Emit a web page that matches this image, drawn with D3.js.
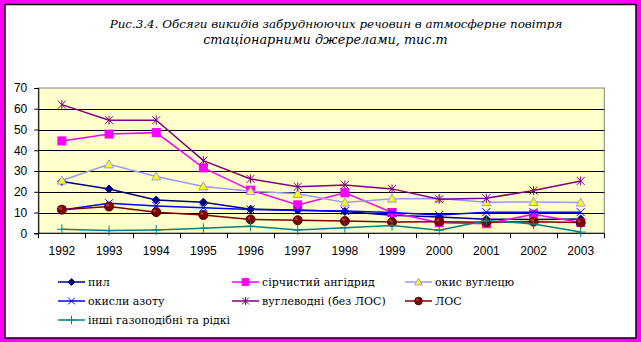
<!DOCTYPE html>
<html><head><meta charset="utf-8">
<script src="https://cdn.jsdelivr.net/npm/d3@7"></script>
<style>html,body{margin:0;padding:0;background:#FF00FF;}svg{display:block;}</style>
</head><body>
<script>
const years = ["1992","1993","1994","1995","1996","1997","1998","1999","2000","2001","2002","2003"];
const yTicks = [0,10,20,30,40,50,60,70];
const titleLines = ["Рис.3.4. Обсяги викидів забруднюючих речовин в атмосферне повітря","стаціонарними джерелами, тис.т"];
const seriesNames = ["пил","сірчистий ангідрид","окис вуглецю","окисли азоту","вуглеводні (без ЛОС)","ЛОС","інші газоподібні та рідкі"];
const pyl      = [25, 21.3, 16, 15, 11.6, 11.2, 10.5, 8.7, 7.8, 6.8, 6.7, 6.9];
const sirch    = [44.5, 47.8, 48.5, 31.5, 20.8, 13.7, 19.5, 10.0, 5.1, 4.6, 9.2, 5.2];
const okysVug  = [25.4, 33.2, 27.4, 22.6, 20.3, 19.0, 14.8, 16.7, 16.8, 15.0, 15.1, 14.8];
const okyslyAz = [11.2, 14.5, 13.2, 12.3, 11.5, 11.0, 10.8, 10.0, 8.8, 10.2, 10.2, 10.2];
const vuglev   = [62, 54.5, 54.5, 35, 26.2, 22.4, 23.3, 21.4, 16.4, 16.9, 20.6, 25.2];
const los      = [11.4, 12.9, 10.2, 8.8, 6.7, 6.3, 5.9, 5.4, 5.6, 5.3, 5.6, 5.2];
const inshi    = [1.9, 1.3, 1.6, 2.4, 3.4, 1.6, 2.7, 3.7, 1.5, 6.2, 4.5, 0.6];

const seriesData = [pyl, sirch, okysVug, okyslyAz, vuglev, los, inshi];
const styles = [
  {line:"#000080", marker:"diamond", fill:"#000080", stroke:"#000080"},
  {line:"#FF00FF", marker:"square", fill:"#FF00FF", stroke:"#FF00FF"},
  {line:"#9999FF", marker:"triangle", fill:"#FFFF00", stroke:"#9999FF"},
  {line:"#0000FF", marker:"x", fill:"none", stroke:"#0000FF"},
  {line:"#800080", marker:"star", fill:"none", stroke:"#800080"},
  {line:"#800000", marker:"circle", fill:"#800000", stroke:"#800000"},
  {line:"#008080", marker:"plus", fill:"none", stroke:"#008080"}
];

const W = 641, H = 342;
const serifFont = "'DejaVu Serif', serif";
const sansFont = "'Liberation Sans', Arial, sans-serif";
const svg = d3.select("body").append("svg").attr("width", W).attr("height", H);
svg.append("rect").attr("x",0).attr("y",0).attr("width",W).attr("height",H).attr("fill","#FF00FF");
svg.append("rect").attr("x",5).attr("y",4.5).attr("width",631).attr("height",333.5)
  .attr("fill","#fff").attr("stroke","#000").attr("stroke-width",1.5);

// title (fit each line to the width it has in the reference)
const tX = [336, 325.5], tY = [27.5, 44], tW = [453, 245];
titleLines.forEach((t,i)=>{
  const tx = svg.append("text").attr("x",tX[i]).attr("y",tY[i]).attr("text-anchor","middle")
    .attr("font-family",serifFont).attr("font-style","italic")
    .attr("font-size",16).attr("fill","#000").text(t);
  const w = tx.node().getComputedTextLength();
  if (w > 0) tx.attr("font-size", Math.min(16, 16 * tW[i] / w));
});

const L = 38.3, R = 604.3, T = 88, B = 233.3;
const x = d3.scaleBand().domain(years).range([L,R]);
const y = d3.scaleLinear().domain([0,70]).range([B,T]);

svg.append("rect").attr("x",L).attr("y",T).attr("width",R-L).attr("height",B-T)
  .attr("fill","#FFFFCC").attr("stroke","#808080").attr("stroke-width",1);

// gridlines
svg.append("g").selectAll("line").data(yTicks.filter(v=>v>0 && v<70)).join("line")
  .attr("x1",L).attr("x2",R).attr("y1",d=>Math.round(y(d))+0.5).attr("y2",d=>Math.round(y(d))+0.5)
  .attr("stroke","#000").attr("stroke-width",1);

// y axis
const yAxis = d3.axisLeft(y).tickValues(yTicks).tickSize(4).tickPadding(5);
const gy = svg.append("g").attr("transform",`translate(${L},0)`).call(yAxis);
gy.select(".domain").attr("stroke","#000");
gy.selectAll("text").attr("font-family",sansFont).attr("font-size",12).attr("fill","#000").attr("dx",-2);

// x axis
const gx = svg.append("g").attr("transform",`translate(0,${B})`).call(d3.axisBottom(x).tickSize(0).tickPadding(13));
gx.select(".domain").remove();
gx.selectAll("text").attr("font-family",sansFont).attr("font-size",12).attr("fill","#000");
svg.append("line").attr("x1",L).attr("x2",R).attr("y1",B).attr("y2",B).attr("stroke","#000");
const bounds = years.map(d=>x(d)).concat([R]);
svg.append("g").selectAll("line").data(bounds).join("line")
  .attr("x1",d=>Math.round(d)+0.5).attr("x2",d=>Math.round(d)+0.5).attr("y1",B).attr("y2",B+5).attr("stroke","#000");

function drawMarker(g, type, cx, cy, st, s){
  s = s || 1;
  if(type==="diamond"){
    g.append("path").attr("d",`M${cx},${cy-4*s}L${cx+4*s},${cy}L${cx},${cy+4*s}L${cx-4*s},${cy}Z`).attr("fill",st.fill).attr("stroke",st.stroke);
  } else if(type==="square"){
    g.append("rect").attr("x",cx-4*s).attr("y",cy-4*s).attr("width",8*s).attr("height",8*s).attr("fill",st.fill).attr("stroke",st.stroke);
  } else if(type==="triangle"){
    g.append("path").attr("d",`M${cx},${cy-4.5*s}L${cx+4.5*s},${cy+3.5*s}L${cx-4.5*s},${cy+3.5*s}Z`).attr("fill",st.fill).attr("stroke",st.stroke);
  } else if(type==="x"){
    g.append("path").attr("d",`M${cx-4*s},${cy-4*s}L${cx+4*s},${cy+4*s}M${cx+4*s},${cy-4*s}L${cx-4*s},${cy+4*s}`).attr("stroke",st.stroke).attr("fill","none");
  } else if(type==="star"){
    g.append("path").attr("d",`M${cx-4*s},${cy-4*s}L${cx+4*s},${cy+4*s}M${cx+4*s},${cy-4*s}L${cx-4*s},${cy+4*s}M${cx},${cy-4.5*s}L${cx},${cy+4.5*s}`).attr("stroke",st.stroke).attr("fill","none");
  } else if(type==="circle"){
    g.append("circle").attr("cx",cx).attr("cy",cy).attr("r",4.5*s).attr("fill",st.fill).attr("stroke","#5a0000");
    g.append("circle").attr("cx",cx-1.5*s).attr("cy",cy-1.5*s).attr("r",1.5*s).attr("fill","#a04040");
  } else if(type==="plus"){
    g.append("path").attr("d",`M${cx-5*s},${cy}L${cx+5*s},${cy}M${cx},${cy-5*s}L${cx},${cy+5*s}`).attr("stroke",st.stroke).attr("fill","none");
  }
}

const line = d3.line().x((d,i)=>x(years[i])+x.bandwidth()/2).y(d=>y(d));
seriesData.forEach((vals,si)=>{
  const st = styles[si];
  const g = svg.append("g");
  g.append("path").attr("d",line(vals)).attr("fill","none").attr("stroke",st.line).attr("stroke-width",1.5);
  vals.forEach((v,i)=>drawMarker(g, st.marker, x(years[i])+x.bandwidth()/2, y(v), st));
});

// legend
const colX = [58, 232, 405], rowY = [282, 301, 320];
seriesNames.forEach((name,i)=>{
  const cx = colX[i%3], cy = rowY[Math.floor(i/3)];
  const st = styles[i];
  const g = svg.append("g");
  g.append("line").attr("x1",cx).attr("x2",cx+27).attr("y1",cy).attr("y2",cy).attr("stroke",st.line).attr("stroke-width",1.5);
  drawMarker(g, st.marker, cx+13.5, cy, st, 0.85);
  g.append("text").attr("x",cx+30).attr("y",cy).attr("dy","0.35em")
    .attr("font-family",serifFont).attr("font-size",11).attr("fill","#000").text(name);
});
</script>
</body></html>
